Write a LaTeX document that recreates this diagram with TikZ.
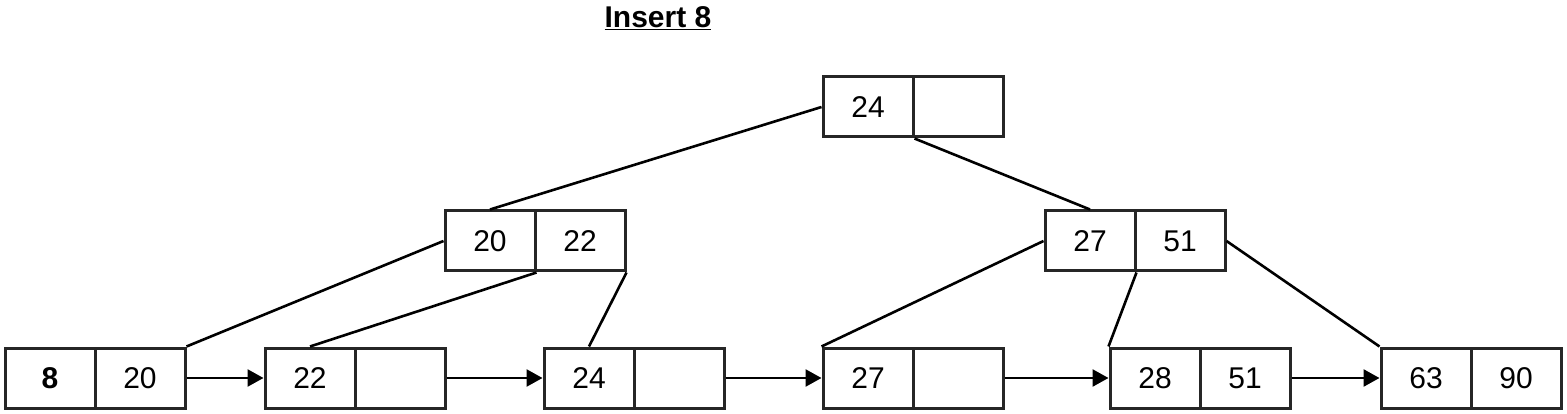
\documentclass[tikz,border=0pt]{standalone}
\usepackage{fontspec}
\setmainfont{Liberation Sans}
\usetikzlibrary{arrows.meta}
\begin{document}
\begin{tikzpicture}[x=1pt,y=-1pt,
  cell/.style={draw=black!85,line width=3pt,minimum width=90pt,minimum height=60pt,inner sep=0pt,font=\fontsize{30}{33}\selectfont},
  edge/.style={draw=black,line width=2.6pt},
  nextarrow/.style={draw=black,line width=2.6pt,-{Triangle[length=16pt,width=17pt]}}
]
\useasboundingbox (0,0) rectangle (1567,414);
\node[font=\fontsize{30}{34}\selectfont\bfseries] (title) at (658,18) {\underline{Insert 8}};
% root
\node[cell] (r1) at (868,107) {24};
\node[cell] (r2) at (958,107) {};
% middle
\node[cell] (m1) at (490,241) {20};
\node[cell] (m2) at (580,241) {22};
\node[cell] (n1) at (1090,241) {27};
\node[cell] (n2) at (1180,241) {51};
% leaves
\node[cell] (l1a) at (50,378) {\bfseries 8};
\node[cell] (l1b) at (140,378) {20};
\node[cell] (l2a) at (310,378) {22};
\node[cell] (l2b) at (400,378) {};
\node[cell] (l3a) at (589,378) {24};
\node[cell] (l3b) at (679,378) {};
\node[cell] (l4a) at (868,378) {27};
\node[cell] (l4b) at (958,378) {};
\node[cell] (l5a) at (1155,378) {28};
\node[cell] (l5b) at (1245,378) {51};
\node[cell] (l6a) at (1426,378) {63};
\node[cell] (l6b) at (1516,378) {90};
% tree edges
\draw[edge] (r1.west) -- (m1.north);
\draw[edge] (r1.south east) -- (n1.north);
\draw[edge] (m1.west) -- (l1b.north east);
\draw[edge] (m1.south east) -- (l2a.north);
\draw[edge] (m2.south east) -- (l3a.north);
\draw[edge] (n1.west) -- (l4a.north west);
\draw[edge] (n1.south east) -- (l5a.north west);
\draw[edge] (n2.east) -- (l6a.north west);
% leaf links
\draw[nextarrow] (l1b.east) -- (l2a.west);
\draw[nextarrow] (l2b.east) -- (l3a.west);
\draw[nextarrow] (l3b.east) -- (l4a.west);
\draw[nextarrow] (l4b.east) -- (l5a.west);
\draw[nextarrow] (l5b.east) -- (l6a.west);
\end{tikzpicture}
\end{document}
